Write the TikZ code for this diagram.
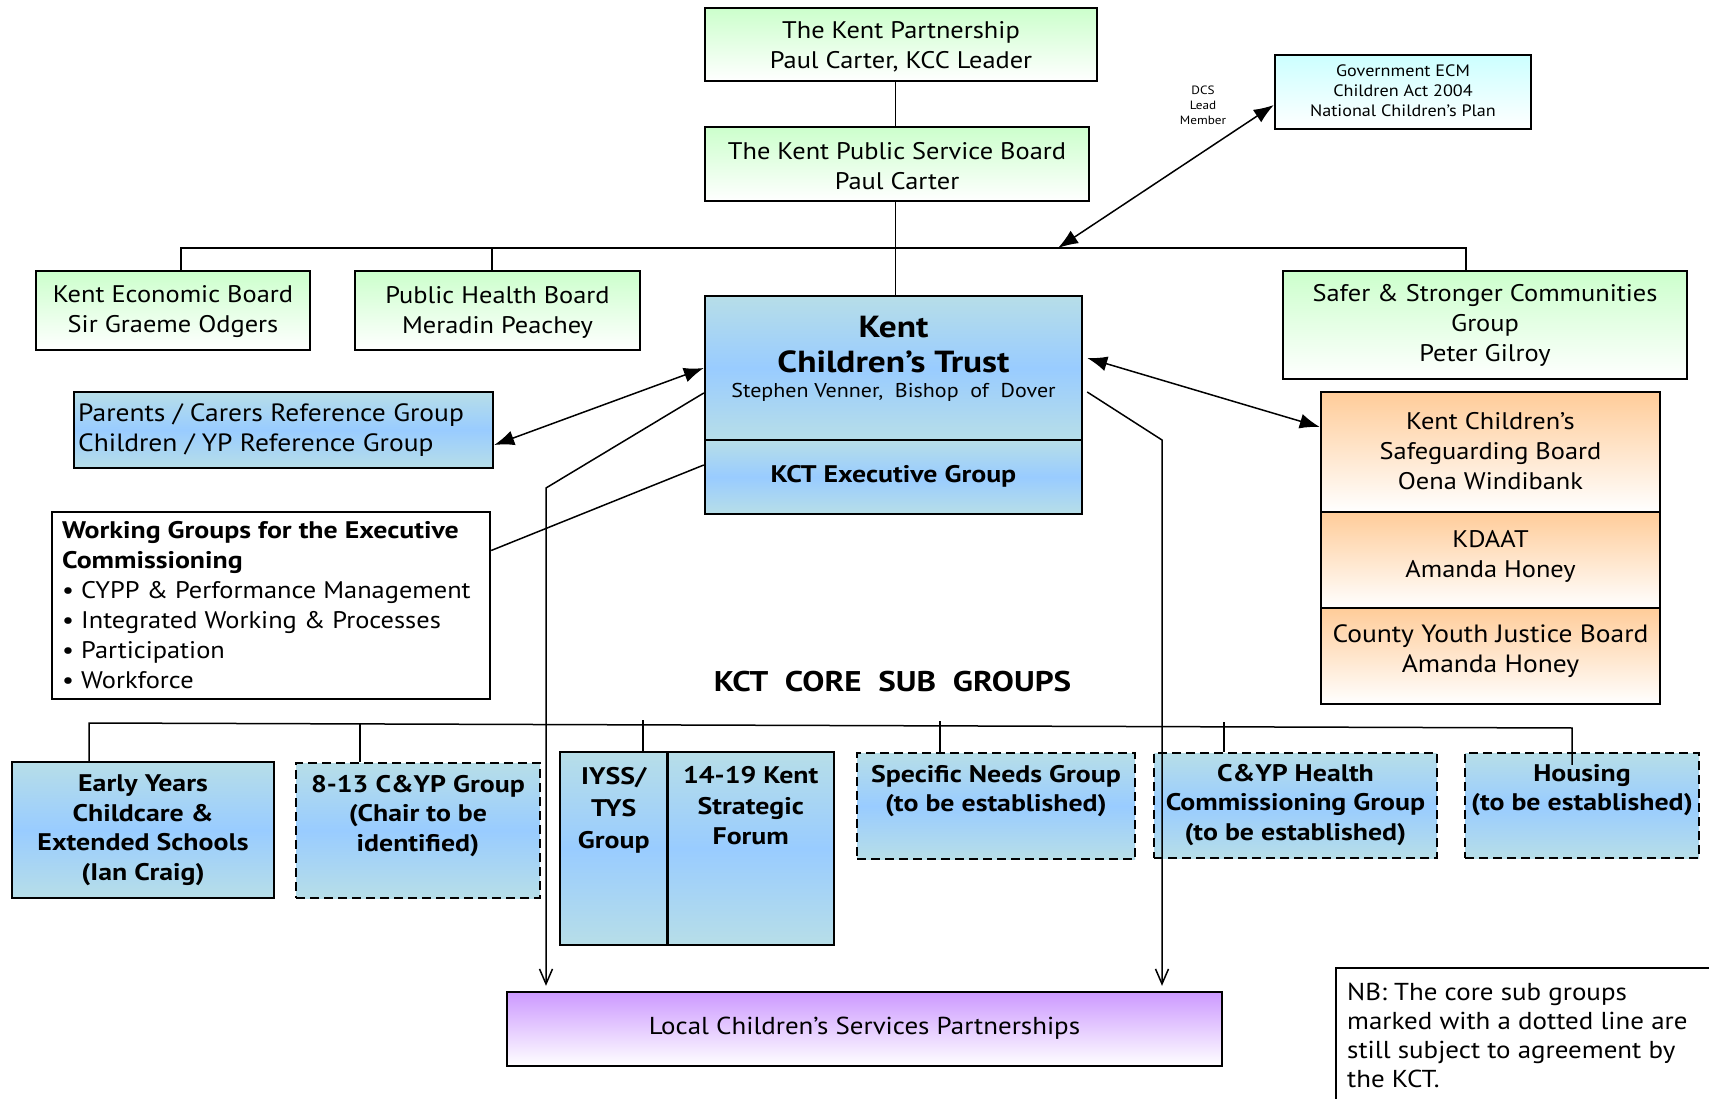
\documentclass[tikz,border=0pt]{standalone}
\usepackage{fontspec}
\setmainfont{PT Sans}[FakeStretch=1.10, BoldFeatures={FakeStretch=1.16}]
\usetikzlibrary{arrows.meta,calc}
\definecolor{grn}{HTML}{CCFFCC}
\definecolor{tealc}{HTML}{B7DEE8}
\definecolor{bluc}{HTML}{99CCFF}
\definecolor{ornc}{HTML}{FFCC99}
\definecolor{purc}{HTML}{CC99FF}
\definecolor{cyac}{HTML}{CCFFFF}
\newcommand\kmed{\fontsize{24}{30}\selectfont}
\newcommand\ksmall{\fontsize{16.5}{20}\selectfont}
\newcommand\ktiny{\fontsize{12}{15}\selectfont}
\newcommand\kbig{\fontsize{30.5}{35}\selectfont\bfseries}
\newcommand\kstep{\fontsize{20}{24}\selectfont}
\newcommand\ksub{\fontsize{24}{29.5}\selectfont\bfseries}
\newcommand\kcore{\fontsize{28.5}{32}\selectfont\bfseries}
\begin{document}
\begin{tikzpicture}[x=1pt,y=-1pt,
  bx/.style={draw, line width=2.4pt, inner sep=0pt, align=center},
  dbx/.style={bx, dash pattern=on 9pt off 5pt},
  grnfill/.style={top color=grn, bottom color=white},
  bluefill/.style={top color=tealc, bottom color=tealc, middle color=bluc},
  ornfill/.style={top color=ornc, bottom color=white},
  purfill/.style={top color=purc, bottom color=white},
  cyafill/.style={top color=cyac, bottom color=white},
  txt/.style={inner sep=0pt, align=center},
  ln/.style={line width=1.5pt},
  both/.style={{Latex[length=20pt,width=15pt]}-{Latex[length=20pt,width=15pt]}},
  opentip/.style={-{Straight Barb[length=15pt,width=13pt]}}
]
\useasboundingbox (0,0) rectangle (1709,1099);
\fill[white] (0,0) rectangle (1709,1099);

% top boxes
\node[bx,grnfill,minimum width=392,minimum height=73] (partner) at (901,44.5) {};
\node[txt,font=\kmed] (partnertxt) at (901,46.5) {The Kent Partnership\\Paul Carter, KCC Leader};
\node[bx,grnfill,minimum width=384,minimum height=74] (psb) at (897,164) {};
\node[txt,font=\kmed] (psbtxt) at (897,166) {The Kent Public Service Board\\Paul Carter};
\node[bx,cyafill,minimum width=256,minimum height=74] (gov) at (1403,92) {};
\node[txt,font=\ksmall] (govtxt) at (1403,90.5) {Government ECM\\Children Act 2004\\National Children's Plan};
\node[txt,font=\ktiny] (dcs) at (1203,105) {DCS\\Lead\\Member};

\node[bx,grnfill,minimum width=274,minimum height=79] (keb) at (173,310.5) {};
\node[txt,font=\kmed] (kebtxt) at (173,312) {Kent Economic Board\\Sir Graeme Odgers};
\node[bx,grnfill,minimum width=285,minimum height=79] (phb) at (497.5,310.5) {};
\node[txt,font=\kmed] (phbtxt) at (497.5,312) {Public Health Board\\Meradin Peachey};
\node[bx,grnfill,minimum width=404,minimum height=108] (safer) at (1485,325) {};
\node[txt,font=\kmed] (safertxt) at (1485,325) {Safer \& Stronger Communities\\Group\\Peter Gilroy};

% KCT
\node[bx,bluefill,minimum width=377,minimum height=144] (kct) at (893.5,368) {};
\node[txt,font=\kbig] (kcttitle) at (893.5,345) {Kent\\Children’s Trust};
\node[txt,font=\kstep] (kctsub) at (893.5,392) {Stephen Venner,\ \ Bishop\ \ of\ \ Dover};
\node[bx,bluefill,minimum width=377,minimum height=74] (kctexec) at (893.5,477) {};
\node[txt,font=\kmed\bfseries] (kctexectxt) at (893.5,476) {KCT Executive Group};

\node[bx,bluefill,minimum width=419,minimum height=76] (parents) at (283.5,430) {};
\node[txt,align=left,anchor=west,font=\fontsize{25}{30}\selectfont] (parentstxt) at (78,430) {Parents / Carers Reference Group\\Children / YP Reference Group};

% orange stack
\node[bx,ornfill,minimum width=339,minimum height=120] (kcsb) at (1490.5,452) {};
\node[txt,font=\kmed] (kcsbtxt) at (1490.5,451) {Kent Children’s\\Safeguarding Board\\Oena Windibank};
\node[bx,ornfill,minimum width=339,minimum height=96] (kdaat) at (1490.5,560) {};
\node[txt,font=\kmed] (kdaattxt) at (1490.5,556) {KDAAT\\Amanda Honey};
\node[bx,ornfill,minimum width=339,minimum height=96] (cyjb) at (1490.5,656) {};
\node[txt,font=\fontsize{25}{30}\selectfont] (cyjbtxt) at (1490.5,651) {County Youth Justice Board\\Amanda Honey};

% working groups
\node[bx,fill=white,minimum width=438,minimum height=187] (wg) at (271,605.5) {};
\node[txt,align=left,anchor=west,font=\kmed] (wgtxt) at (62,605) {\textbf{Working Groups for the Executive}\\\textbf{Commissioning}\\• CYPP \& Performance Management\\• Integrated Working \& Processes\\• Participation\\• Workforce};

\node[txt,font=\kcore] (core) at (892.5,682) {KCT\ \ CORE\ \ SUB\ \ GROUPS};

% sub groups
\node[bx,bluefill,minimum width=262,minimum height=136] (early) at (143,830) {};
\node[txt,font=\ksub] (earlytxt) at (143,830) {Early Years\\Childcare \&\\Extended Schools\\(Ian Craig)};
\node[dbx,bluefill,minimum width=244,minimum height=135] (e813) at (418,830.5) {};
\node[txt,font=\ksub] (e813txt) at (418,816) {8-13 C\&YP Group\\(Chair to be\\identified)};
\node[bx,bluefill,minimum width=107.5,minimum height=193] (iyss) at (613.75,848.5) {};
\node[txt,font=\fontsize{24}{32}\selectfont\bfseries] (iysstxt) at (613.75,810) {IYSS/\\TYS\\Group};
\node[bx,bluefill,minimum width=166.5,minimum height=193] (forum) at (750.75,848.5) {};
\node[txt,font=\fontsize{24}{30.5}\selectfont\bfseries] (forumtxt) at (750.75,806) {14-19 Kent\\Strategic\\Forum};
\node[dbx,bluefill,minimum width=278,minimum height=106] (spec) at (996,806) {};
\node[txt,font=\ksub] (spectxt) at (996,791) {Specific Needs Group\\(to be established)};
\node[dbx,bluefill,minimum width=283,minimum height=105] (health) at (1295.5,805.5) {};
\node[txt,font=\ksub] (healthtxt) at (1295.5,805) {C\&YP Health\\Commissioning Group\\(to be established)};
\node[dbx,bluefill,minimum width=234,minimum height=105] (housing) at (1582,805.5) {};
\node[txt,font=\ksub] (housingtxt) at (1582,790) {Housing\\(to be established)};

\node[bx,purfill,minimum width=715,minimum height=74] (lcsp) at (864.5,1029) {};
\node[txt,font=\fontsize{24.5}{28}\selectfont] (lcsptxt) at (864.5,1028) {Local Children’s Services Partnerships};

% NB box
\draw[line width=1.6pt] (1336,1100) -- (1336,968) -- (1710,968);
\node[txt,align=left,anchor=west,font=\fontsize{24.5}{29}\selectfont] (nb) at (1347,1035) {NB: The core sub groups\\marked with a dotted line are\\still subject to agreement by\\the KCT.};

% connectors
\coordinate (spine) at (895.5,0);
\coordinate (busL) at (181,248);
\coordinate (busM) at (492,248);
\coordinate (busR) at (1466,248);
\coordinate (govtail) at (1058,248);
\draw[ln] (partner.south -| spine) -- (psb.north -| spine);
\draw[ln] (psb.south -| spine) -- (kct.north -| spine);
\draw[ln] (keb.north -| busL) -- (busL) -- (busR) -- (safer.north -| busR);
\draw[ln] (busM) -- (phb.north -| busM);
\draw[ln,both] (govtail) -- ($(gov.west)+(0,13)$);

\draw[ln,both] (kct.west) -- ($(parents.east)+(0,15)$);
\draw[ln,both] ($(kct.east)+(4,-10)$) -- ($(kcsb.west)+(0,-25)$);

\coordinate (lbend) at (546,488);
\coordinate (rbend) at (1162,440);
\draw[ln,opentip] ($(kct.west)+(0,25)$) -- (lbend) -- ($(lbend |- lcsp.north)+(0,-5)$);
\draw[ln,opentip] ($(kct.east)+(4,24)$) -- (rbend) -- ($(rbend |- lcsp.north)+(0,-5)$);
\draw[ln] ($(kctexec.west)+(0,-12)$) -- ($(wg.east)+(0,-55)$);

% core bus
\coordinate (cbL) at (89,723);
\coordinate (cbR) at (1572,728);
\draw[ln] (early.north -| cbL) -- (cbL) -- (cbR) -- ($(housing.north -| cbR)+(0,13)$);
\coordinate (d1) at (360,724);
\coordinate (d2) at (643,720);
\coordinate (d3) at (940,721);
\coordinate (d4) at (1224,722);
\draw[ln] (d1) -- (e813.north -| d1);
\draw[ln] (d2) -- (iyss.north -| d2);
\draw[ln] (d3) -- (spec.north -| d3);
\draw[ln] (d4) -- (health.north -| d4);
\end{tikzpicture}
\end{document}
